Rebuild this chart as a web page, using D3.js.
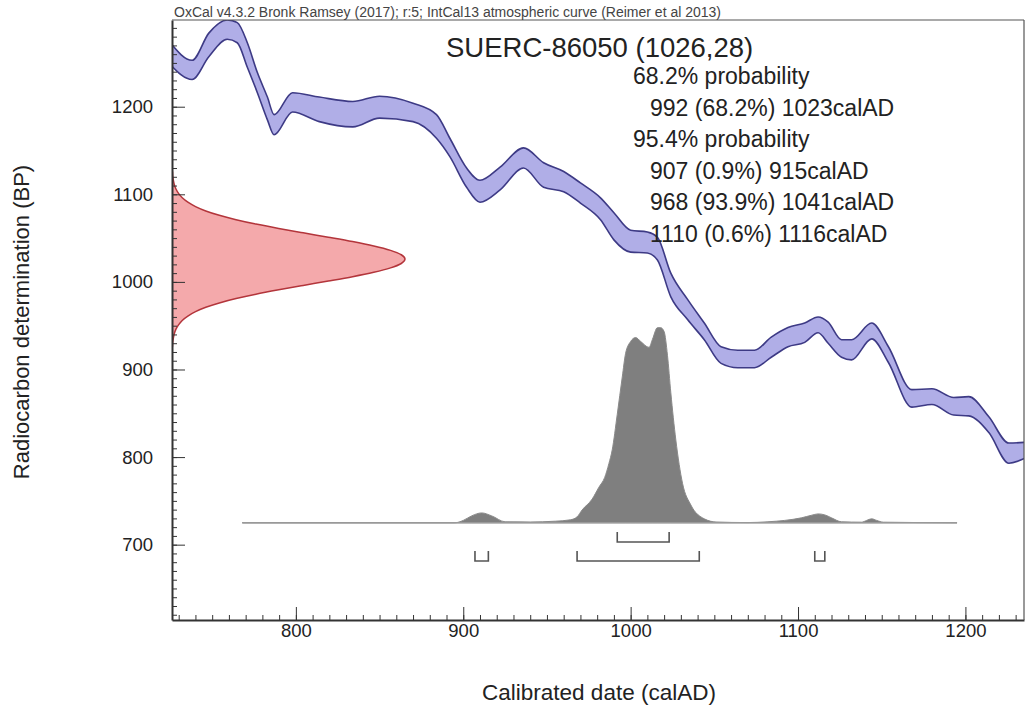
<!DOCTYPE html>
<html>
<head>
<meta charset="utf-8">
<script src="https://cdn.jsdelivr.net/npm/d3@7"></script>
<style>
  body { margin: 0; background: #fff; }
  text { font-family: "Liberation Sans", Arial, sans-serif; fill: #222; }
</style>
</head>
<body>
<script>
const width = 1025;
const height = 711;

// calibration curve (IntCal13), band edges in BP
const calYear  = [725, 738, 748, 759, 765, 771, 777, 783, 787, 798, 814, 834, 850, 870, 884, 892, 902, 910, 922, 936, 948, 960, 970, 982, 990, 1000, 1010, 1016, 1024, 1034, 1044, 1054, 1064, 1074, 1084, 1094, 1104, 1112, 1118, 1126, 1132, 1144, 1154, 1168, 1180, 1193, 1202, 1214, 1226, 1237];
const calUpper = [1273, 1253, 1284, 1299, 1296, 1273, 1239, 1211, 1191, 1216, 1211, 1206, 1212, 1204, 1191, 1164, 1130, 1116, 1131, 1153, 1136, 1126, 1113, 1096, 1079, 1059, 1057, 1051, 1010, 980, 953, 926, 922, 922, 937, 948, 953, 960, 954, 934, 934, 953, 926, 877, 878, 868, 869, 846, 816, 817];
const calLower = [1248, 1231, 1257, 1277, 1273, 1245, 1216, 1185, 1168, 1194, 1183, 1177, 1187, 1183, 1164, 1143, 1108, 1091, 1105, 1130, 1108, 1103, 1090, 1071, 1048, 1034, 1033, 1025, 983, 957, 934, 907, 902, 902, 914, 926, 931, 942, 930, 914, 911, 935, 908, 857, 860, 848, 847, 828, 793, 800];

// calibrated (posterior) distribution, relative probability
const postYear = [768, 895, 900, 905, 911, 917, 925, 940, 955, 964, 968, 971, 977, 981, 984.5, 987, 989, 992, 995, 997, 1000, 1003, 1006, 1011, 1013, 1016, 1018, 1020, 1022, 1024, 1027, 1031, 1036, 1044, 1051, 1070, 1082, 1092, 1102, 1108, 1112, 1116, 1120, 1126, 1138, 1141, 1144, 1147, 1151, 1195];
const postProb = [0, 0, 0.012, 0.035, 0.05, 0.035, 0.005, 0.004, 0.008, 0.015, 0.03, 0.065, 0.12, 0.18, 0.23, 0.3, 0.37, 0.55, 0.74, 0.86, 0.92, 0.94, 0.92, 0.89, 0.93, 0.99, 0.99, 0.97, 0.85, 0.66, 0.42, 0.2, 0.09, 0.02, 0.004, 0.001, 0.005, 0.012, 0.025, 0.038, 0.045, 0.04, 0.025, 0.005, 0.003, 0.012, 0.02, 0.012, 0.003, 0];

// radiocarbon determination 1026 +/- 28 BP
const rcBP   = [1126, 1121, 1116, 1111, 1106, 1101, 1096, 1091, 1086, 1081, 1076, 1071, 1066, 1061, 1056, 1051, 1046, 1041, 1036, 1031, 1026, 1021, 1016, 1011, 1006, 1001, 996, 991, 986, 981, 976, 971, 966, 961, 956, 951, 946, 941, 936, 931, 926];
const rcProb = [0.002, 0.003, 0.006, 0.010, 0.017, 0.028, 0.044, 0.068, 0.101, 0.145, 0.203, 0.275, 0.360, 0.458, 0.563, 0.671, 0.775, 0.866, 0.938, 0.984, 1, 0.984, 0.938, 0.866, 0.775, 0.671, 0.563, 0.458, 0.360, 0.275, 0.203, 0.145, 0.101, 0.068, 0.044, 0.028, 0.017, 0.010, 0.006, 0.003, 0.002];

const ranges68 = [[992, 1023]];
const ranges95 = [[907, 915], [968, 1041], [1110, 1116]];

const xTicks = [800, 900, 1000, 1100, 1200];
const yTicks = [700, 800, 900, 1000, 1100, 1200];

const headerText = "OxCal v4.3.2 Bronk Ramsey (2017); r:5; IntCal13 atmospheric curve (Reimer et al 2013)";
const titleText = "SUERC-86050 (1026,28)";
const probLines = [
  {t: "68.2% probability", indent: false},
  {t: "992 (68.2%) 1023calAD", indent: true},
  {t: "95.4% probability", indent: false},
  {t: "907 (0.9%) 915calAD", indent: true},
  {t: "968 (93.9%) 1041calAD", indent: true},
  {t: "1110 (0.6%) 1116calAD", indent: true}
];

const svg = d3.select('body').append('svg').attr('width', width).attr('height', height);

const pLeft = 172, pTop = 20, pRight = 1024, pBottom = 620;

const xs = d3.scaleLinear().domain([726, 1235]).range([pLeft, pRight]);
const ys = d3.scaleLinear().domain([614, 1299]).range([pBottom, pTop]);

svg.append('clipPath').attr('id', 'plot')
  .append('rect').attr('x', pLeft).attr('y', pTop).attr('width', pRight - pLeft).attr('height', pBottom - pTop);

const g = svg.append('g').attr('clip-path', 'url(#plot)');

// posterior
const py = d3.scaleLinear().domain([0, 1]).range([ys(725), ys(950)]);
const post = postYear.map((d, i) => [d, postProb[i]]);
g.append('path')
  .datum(post)
  .attr('d', d3.area().x(d => xs(d[0])).y0(py(0)).y1(d => py(d[1])).curve(d3.curveMonotoneX))
  .style('fill', '#7f7f7f')
  .style('stroke', '#8a8a8a')
  .style('stroke-width', 1);
g.append('line')
  .attr('x1', xs(postYear[0])).attr('x2', xs(postYear[postYear.length - 1]))
  .attr('y1', py(0)).attr('y2', py(0))
  .style('stroke', '#999').style('stroke-width', 1.5);

// calibration band
const cal = calYear.map((d, i) => ({x: d, hi: calUpper[i], lo: calLower[i]}));
g.append('path')
  .datum(cal)
  .attr('d', d3.area().x(d => xs(d.x)).y0(d => ys(d.lo)).y1(d => ys(d.hi)).curve(d3.curveMonotoneX))
  .style('fill', '#acaae6')
  .style('opacity', 0.95);
['hi', 'lo'].forEach(function(k) {
  g.append('path')
    .datum(cal)
    .attr('d', d3.line().x(d => xs(d.x)).y(d => ys(d[k])).curve(d3.curveMonotoneX))
    .style('fill', 'none')
    .style('stroke', '#3d3a85')
    .style('stroke-width', 1.6);
});

// radiocarbon determination
const rx = d3.scaleLinear().domain([0, 1]).range([pLeft, pLeft + 233]);
const rc = rcBP.map((d, i) => [d, rcProb[i]]);
g.append('path')
  .datum(rc)
  .attr('d', d3.area().y(d => ys(d[0])).x0(rx(0)).x1(d => rx(d[1])).curve(d3.curveMonotoneY))
  .style('fill', '#f4a9ab');
g.append('path')
  .datum(rc)
  .attr('d', d3.line().y(d => ys(d[0])).x(d => rx(d[1])).curve(d3.curveMonotoneY))
  .style('fill', 'none')
  .style('stroke', '#b3353b')
  .style('stroke-width', 1.5);

// range brackets
function bracket(r, yb) {
  const h = 10;
  g.append('path')
    .attr('d', 'M' + xs(r[0]) + ',' + (yb - h) + 'V' + yb + 'H' + xs(r[1]) + 'V' + (yb - h))
    .style('fill', 'none')
    .style('stroke', '#555')
    .style('stroke-width', 1.6);
}
ranges68.forEach(r => bracket(r, 542));
ranges95.forEach(r => bracket(r, 561));

// axes
const xMinor = d3.range(730, 1240, 10);
const yMinor = d3.range(620, 1300, 10);

svg.append('g').attr('transform', 'translate(0,' + pBottom + ')')
  .call(d3.axisBottom(xs).tickValues(xMinor).tickSize(-5).tickFormat(''))
  .call(a => a.select('.domain').remove())
  .selectAll('line').style('stroke', '#333');
const xa = svg.append('g').attr('transform', 'translate(0,' + pBottom + ')')
  .call(d3.axisBottom(xs).tickValues(xTicks).tickSize(-13).tickSizeOuter(0).tickPadding(4).tickFormat(d3.format('d')));
xa.selectAll('text').style('font-size', '18.5px').style('font-family', '"Liberation Sans", Arial, sans-serif').attr('fill', '#222');
xa.selectAll('line').style('stroke', '#333');
xa.select('.domain').style('stroke', '#333').style('stroke-width', 2);

svg.append('g').attr('transform', 'translate(' + pLeft + ',0)')
  .call(d3.axisLeft(ys).tickValues(yMinor).tickSize(-5).tickFormat(''))
  .call(a => a.select('.domain').remove())
  .selectAll('line').style('stroke', '#333');
const ya = svg.append('g').attr('transform', 'translate(' + pLeft + ',0)')
  .call(d3.axisLeft(ys).tickValues(yTicks).tickSize(-13).tickSizeOuter(0).tickPadding(19).tickFormat(d3.format('d')));
ya.selectAll('text').style('font-size', '18.5px').style('font-family', '"Liberation Sans", Arial, sans-serif').attr('fill', '#222');
ya.selectAll('line').style('stroke', '#333');
ya.select('.domain').style('stroke', '#333').style('stroke-width', 2);

// frame top/right
svg.append('line').attr('x1', pLeft).attr('x2', pRight).attr('y1', pTop).attr('y2', pTop)
  .style('stroke', '#555').style('stroke-width', 1.2);
svg.append('line').attr('x1', pRight).attr('x2', pRight).attr('y1', pTop).attr('y2', pBottom)
  .style('stroke', '#555').style('stroke-width', 1.2);

// texts
svg.append('text').attr('x', pLeft + 2).attr('y', 17).text(headerText)
  .style('font-size', '14px').style('fill', '#444');
svg.append('text').attr('x', 446).attr('y', 57).text(titleText)
  .style('font-size', '27.5px');
svg.selectAll('.prob')
  .data(probLines)
  .enter()
  .append('text')
  .attr('class', 'prob')
  .attr('x', d => d.indent ? 650 : 633)
  .attr('y', (d, i) => 84 + i * 31.5)
  .text(d => d.t)
  .style('font-size', '23px');

svg.append('text')
  .attr('transform', 'translate(29,322) rotate(-90)')
  .attr('text-anchor', 'middle')
  .text('Radiocarbon determination (BP)')
  .style('font-size', '22px');
svg.append('text')
  .attr('x', 599).attr('y', 700)
  .attr('text-anchor', 'middle')
  .text('Calibrated date (calAD)')
  .style('font-size', '22.5px');
</script>
</body>
</html>
